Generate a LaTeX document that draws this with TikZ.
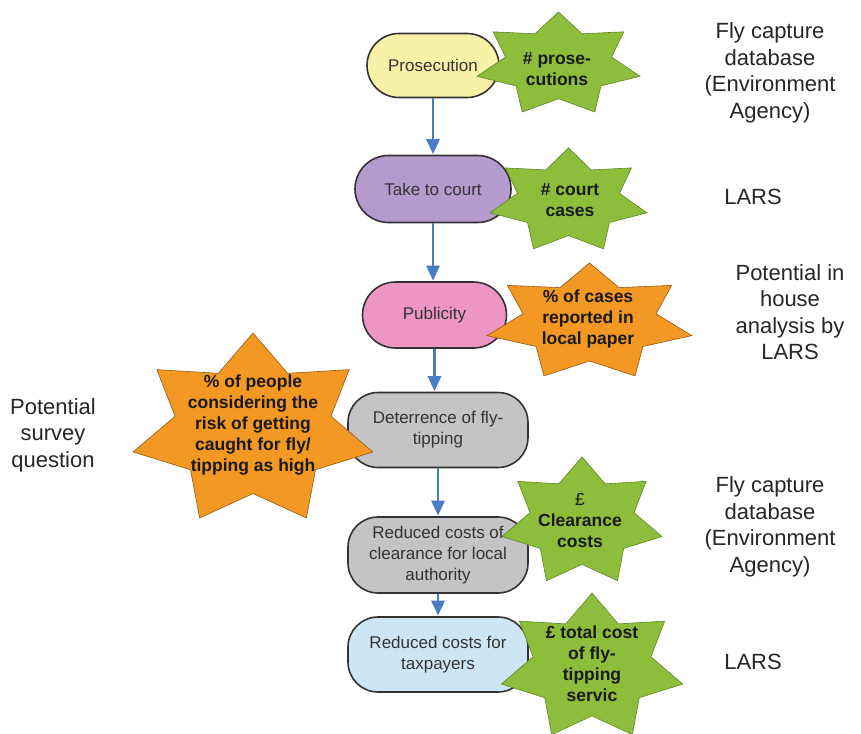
\documentclass[tikz,border=0pt]{standalone}
\usepackage{fontspec}
\setmainfont{Liberation Sans}
\usetikzlibrary{arrows.meta}
\definecolor{cyel}{HTML}{F8F2A8}
\definecolor{cpur}{HTML}{B49BCD}
\definecolor{cpink}{HTML}{EE96C3}
\definecolor{cgray}{HTML}{C4C4C4}
\definecolor{clblue}{HTML}{CDE6F5}
\definecolor{cgreen}{HTML}{8CBE3C}
\definecolor{corange}{HTML}{F29823}
\definecolor{carrow}{HTML}{4A7CC6}
\newcommand\septstar[5]{%
  \begin{scope}[shift={(#1pt,#2pt)}]
    \filldraw[#5] (90:#3pt and #4pt)
      \foreach \k in {1,...,7}{ -- ({90+(\k-0.5)*360/7}:{0.65*#3pt} and {0.65*#4pt}) -- ({90+\k*360/7}:#3pt and #4pt) } -- cycle;
  \end{scope}}
\tikzset{
  box/.style={draw=black!80, line width=1.6pt, align=center, text=black!80,
    font=\fontsize{17}{21}\selectfont, inner sep=0pt},
  greenstar/.style={fill=cgreen, draw=cgreen!70!black, line width=0.6pt},
  orangestar/.style={fill=corange, draw=corange!60!black, line width=0.6pt},
  startext/.style={align=center, font=\fontsize{17.5}{21}\selectfont\bfseries, text=black!90, inner sep=0pt},
  sidetext/.style={align=center, font=\fontsize{22}{26.5}\selectfont, text=black!85, inner sep=0pt},
  arr/.style={draw=carrow, line width=2.8pt, -{Triangle[width=13pt,length=15pt]}, shorten >=0.5pt}
}
\begin{document}
\begin{tikzpicture}[x=1pt,y=1pt]
\useasboundingbox (0,0) rectangle (861,-733);
% process boxes
\node[box, fill=cyel, minimum width=132pt, minimum height=64pt, rounded corners=32pt] (n1) at (433,-65.5) {Prosecution};
\node[box, fill=cpur, minimum width=156pt, minimum height=67pt, rounded corners=33.5pt] (n2) at (433,-189) {Take to court};
\node[box, fill=cpink, minimum width=144pt, minimum height=66pt, rounded corners=33pt] (n3) at (434.5,-315) {Publicity};
\node[box, fill=cgray, minimum width=180pt, minimum height=75pt, rounded corners=30pt] (n4) at (438,-430) {Deterrence of fly-\\tipping};
\node[box, fill=cgray, minimum width=180pt, minimum height=76pt, rounded corners=30pt] (n5) at (438,-555) {Reduced costs of\\clearance for local\\authority};
\node[box, fill=clblue, minimum width=180pt, minimum height=75pt, rounded corners=30pt] (n6) at (438,-654.5) {Reduced costs for\\taxpayers};
% arrows
\draw[arr] (n1.south) -- (n1.south |- n2.north);
\draw[arr] (n2.south) -- (n2.south |- n3.north);
\draw[arr] (n3.south) -- (n3.south |- n4.north);
\draw[arr] (n4.south) -- (n4.south |- n5.north);
\draw[arr] (n5.south) -- (n5.south |- n6.north);
% stars
\septstar{558.5}{-64.6}{83.6}{52.6}{greenstar}
\septstar{568.5}{-201}{80.5}{53.1}{greenstar}
\septstar{589.5}{-322.4}{105}{59.4}{orangestar}
\septstar{253}{-430.3}{123}{97.3}{orangestar}
\septstar{582}{-522}{82}{65.2}{greenstar}
\septstar{592}{-667.5}{93}{74.5}{greenstar}
\node[startext] (s1) at (557,-69) {\# prose-\\cutions};
\node[startext] (s2) at (570,-200) {\# court\\cases};
\node[startext] (s3) at (588,-319) {\% of cases\\reported in\\local paper};
\node[startext] (s4) at (253,-425) {\% of people\\considering the\\risk of getting\\caught for fly/\\tipping as high};
\node[startext] (s5) at (580,-520) {{\mdseries £}\\Clearance\\costs};
\node[startext] (s6) at (592,-664) {£ total cost\\of fly-\\tipping\\servic};
% side texts
\node[sidetext] (r1) at (770,-73) {Fly capture\\database\\(Environment\\Agency)};
\node[sidetext] (r2) at (753,-197) {LARS};
\node[sidetext] (r3) at (790,-312) {Potential in\\house\\analysis by\\LARS};
\node[sidetext] (r4) at (770,-527) {Fly capture\\database\\(Environment\\Agency)};
\node[sidetext] (r5) at (753,-662) {LARS};
\node[sidetext] (l1) at (53,-435) {Potential\\survey\\question};
\end{tikzpicture}
\end{document}
